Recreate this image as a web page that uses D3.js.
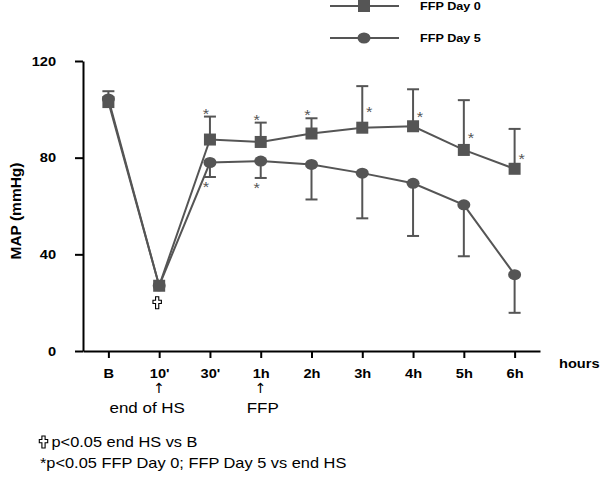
<!DOCTYPE html>
<html><head><meta charset="utf-8">
<script src="https://cdn.jsdelivr.net/npm/d3@7"></script>
<style>body{margin:0;background:#fff}svg{display:block}</style>
</head><body>
<svg id="c" width="600" height="484"></svg>
<script>
const categories = ["B","10'","30'","1h","2h","3h","4h","5h","6h"];
const day0Mean = [103, 27, 87.5, 86.5, 90, 92.4, 93, 83.2, 75.4];
const day0Err  = [4.5, 0, 9.5, 8, 6.3, 17.2, 15.3, 20.6, 16.5];
const day5Mean = [104.3, 27, 78, 78.6, 77.2, 73.6, 69.4, 60.5, 31.6];
const day5Err  = [0, 0, 6, 7, 14.5, 18.7, 21.8, 21.3, 15.8];
const yTicks = [0, 40, 80, 120];
const day0Stars = ["30'","1h","2h","3h","4h","5h","6h"];
const day5Stars = ["30'","1h"];
const seriesNames = ["FFP Day 0", "FFP Day 5"];

const svg = d3.select("#c");
const col = "#555";
const SX = 1.17;
const x = d3.scalePoint().domain(categories).range([83, 540]).padding(0.5);
const y = d3.scaleLinear().domain([0, 120]).range([351, 61]);
const font = "Helvetica, 'Liberation Sans', Arial, sans-serif";

function stext(px, py, str, size, opts={}){
  return svg.append("text").attr("transform",`translate(${px},${py}) scale(${SX},1)`)
    .attr("font-family",font).attr("font-size",size).attr("fill",opts.fill||"#000")
    .attr("text-anchor",opts.anchor||"start").attr("font-weight",opts.bold?"bold":"normal")
    .text(str);
}
// outlined Latin cross, centred at (cx, cy)
function cross(cx, cy){
  const p = d3.path();
  const a = 1.6;
  p.moveTo(cx-a, cy-6); p.lineTo(cx+a, cy-6); p.lineTo(cx+a, cy-2.5);
  p.lineTo(cx+4.2, cy-2.5); p.lineTo(cx+4.2, cy+0.7); p.lineTo(cx+a, cy+0.7);
  p.lineTo(cx+a, cy+6); p.lineTo(cx-a, cy+6); p.lineTo(cx-a, cy+0.7);
  p.lineTo(cx-4.2, cy+0.7); p.lineTo(cx-4.2, cy-2.5); p.lineTo(cx-a, cy-2.5); p.closePath();
  svg.append("path").attr("d",p.toString()).attr("fill","#fff").attr("stroke","#000").attr("stroke-width",1.1);
}

// axes
const ya = svg.append("g").attr("transform","translate(83,0)")
  .call(d3.axisLeft(y).tickValues(yTicks).tickSize(8).tickSizeOuter(0).tickPadding(15));
ya.select(".domain").attr("stroke","#000").attr("stroke-width",2);
ya.selectAll(".tick line").attr("stroke","#000").attr("stroke-width",2);
ya.selectAll(".tick text").attr("font-family",font).attr("font-size",12.5).attr("font-weight","bold")
  .attr("fill","#000").attr("transform",`scale(${SX},1)`);

const xa = svg.append("g").attr("transform","translate(0,351)")
  .call(d3.axisBottom(x).tickSize(7).tickSizeOuter(0).tickPadding(8));
xa.select(".domain").attr("stroke","#000").attr("stroke-width",2);
xa.selectAll(".tick line").attr("stroke","#000").attr("stroke-width",2);
xa.selectAll(".tick text").attr("font-family",font).attr("font-size",12.5).attr("font-weight","bold")
  .attr("fill","#000").attr("transform",`scale(${SX},1)`).attr("dy","1em");

stext(559, 368, "hours", 12.5, {bold:true});
svg.append("text").attr("transform","translate(21,211) rotate(-90)").attr("text-anchor","middle")
  .text("MAP (mmHg)").attr("font-family",font).attr("font-size",15.5).attr("font-weight","bold");

// arrows and labels
["10'","1h"].forEach(c=>{
  svg.append("text").attr("x",x(c)).attr("y",393).attr("text-anchor","middle").text("↑")
    .attr("font-family","'DejaVu Sans', sans-serif").attr("font-size",14).attr("fill","#000");
});
stext(x("10'")-12, 413, "end of HS", 14.5, {anchor:"middle"});
stext(x("1h")+2, 413, "FFP", 14.5, {anchor:"middle"});

// error bars
function errBars(mean, err, dir){
  categories.forEach((c,i)=>{
    if(!err[i]) return;
    const y0 = y(mean[i]), y1 = y(mean[i] + dir*err[i]);
    svg.append("line").attr("x1",x(c)).attr("x2",x(c)).attr("y1",y0).attr("y2",y1)
      .attr("stroke",col).attr("stroke-width",2);
    svg.append("line").attr("x1",x(c)-6).attr("x2",x(c)+6).attr("y1",y1).attr("y2",y1)
      .attr("stroke",col).attr("stroke-width",2);
  });
}
errBars(day0Mean, day0Err, 1);
errBars(day5Mean, day5Err, -1);

const line = d3.line().x((d,i)=>x(categories[i])).y(d=>y(d));
svg.append("path").attr("d",line(day5Mean)).attr("fill","none").attr("stroke",col).attr("stroke-width",2);
svg.append("path").attr("d",line(day0Mean)).attr("fill","none").attr("stroke",col).attr("stroke-width",2);

// markers
svg.selectAll(".c5").data(day5Mean).enter().append("ellipse")
  .attr("cx",(d,i)=>x(categories[i])).attr("cy",d=>y(d)).attr("rx",6.5).attr("ry",5.5).attr("fill",col);
svg.selectAll(".s0").data(day0Mean).enter().append("rect")
  .attr("x",(d,i)=>x(categories[i])-6).attr("y",d=>y(d)-6).attr("width",12).attr("height",12).attr("fill",col);

// stars
day0Stars.forEach(c=>{
  const i = categories.indexOf(c);
  const top = y(day0Mean[i] + day0Err[i]);
  let sx, sy;
  if (i <= 4) { sx = x(c) - 4; sy = top - 5; }
  else { sx = x(c) + 7; sy = top + (i===5 ? 24 : i===6 ? 26 : i===7 ? 36 : 28); }
  stext(sx, sy+7, "*", 14, {anchor:"middle", fill:col});
});
day5Stars.forEach(c=>{
  const i = categories.indexOf(c);
  const bot = y(day5Mean[i] - day5Err[i]);
  stext(x(c)-4, bot+15, "*", 14, {anchor:"middle", fill:col});
});

// cross under end of HS
cross(x("10'")-2, y(day0Mean[1]) + 17);

// legend
seriesNames.forEach((n,k)=>{
  const ly = k===0 ? 6 : 38;
  svg.append("line").attr("x1",330).attr("x2",399).attr("y1",ly).attr("y2",ly).attr("stroke",col).attr("stroke-width",2);
  if(k===0) svg.append("rect").attr("x",358).attr("y",ly-6).attr("width",12).attr("height",12).attr("fill",col);
  else svg.append("ellipse").attr("cx",364).attr("cy",ly).attr("rx",6.5).attr("ry",5.5).attr("fill",col);
  stext(420, ly+4, n, 10.8, {bold:true});
});

// footnotes
cross(43.5, 442);
stext(51.5, 447, "p<0.05 end HS vs B", 14);
stext(40, 468, "*p<0.05 FFP Day 0; FFP Day 5 vs end HS", 14);
</script>
</body></html>
